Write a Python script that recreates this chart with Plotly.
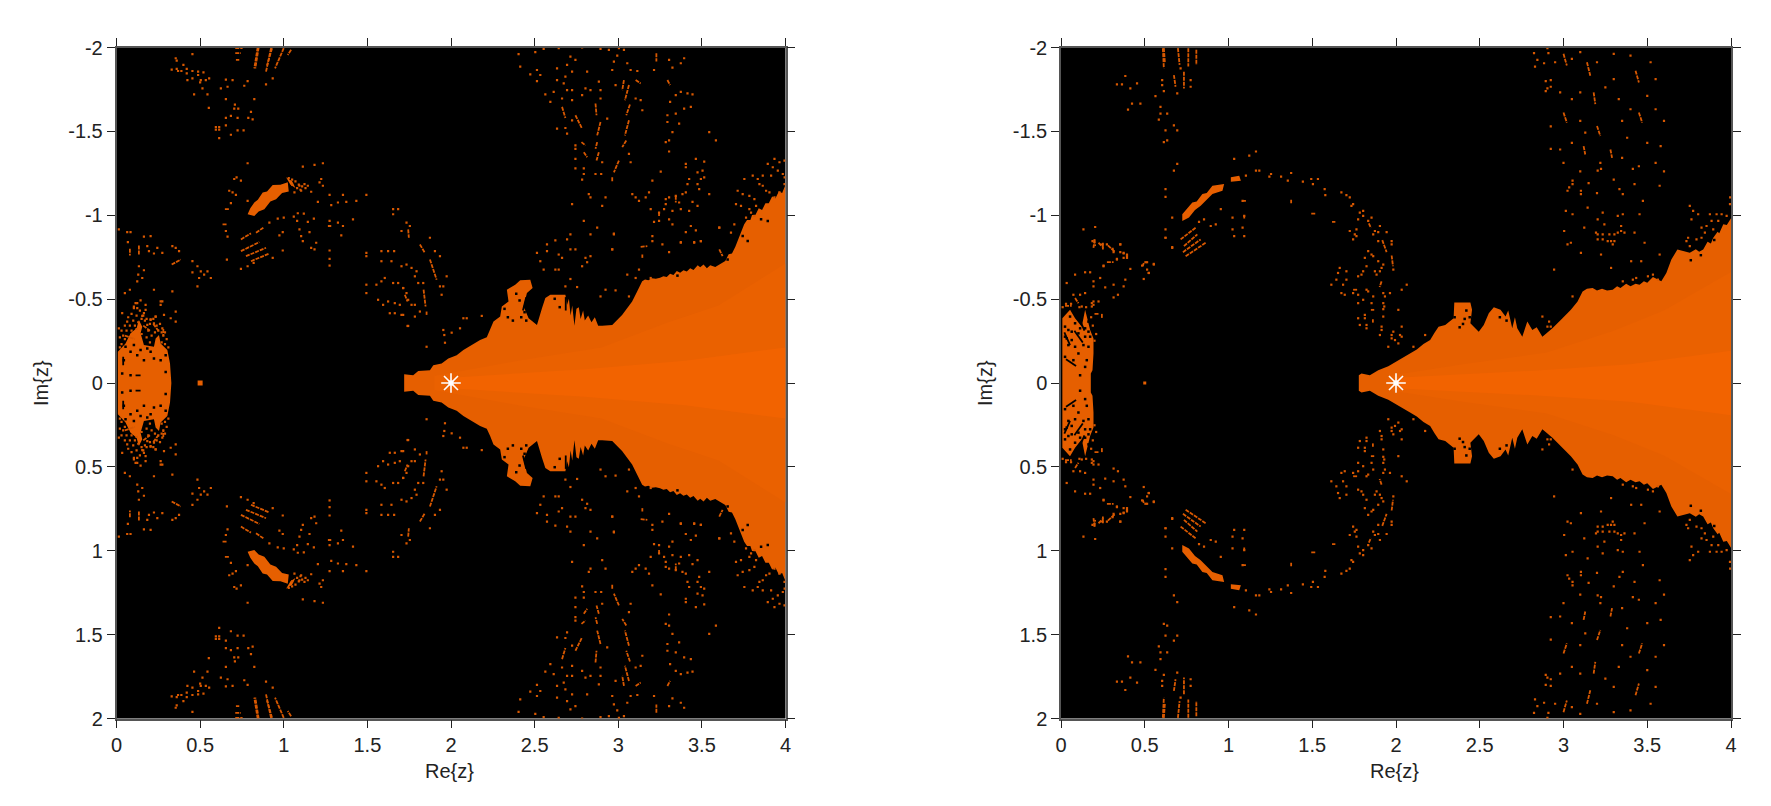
import plotly.graph_objects as go

tick_re = [0, 0.5, 1, 1.5, 2, 2.5, 3, 3.5, 4]
tick_re_text = ['0', '0.5', '1', '1.5', '2', '2.5', '3', '3.5', '4']
tick_im = [-2, -1.5, -1, -0.5, 0, 0.5, 1, 1.5, 2]
tick_im_text = ['-2', '-1.5', '-1', '-0.5', '0', '0.5', '1', '1.5', '2']
root = (2, 0)

# upper half outlines (Re, Im), the lower half is the conjugate
left_body = [(1.72,-.04),(1.774,-.034),(1.804,-.06),(1.874,-.064),(1.894,-.094),(1.944,-.104),(1.984,-.134),(2.034,-.154),
    (2.074,-.184),(2.124,-.214),(2.174,-.244),(2.214,-.26),(2.234,-.304),(2.254,-.354),(2.294,-.384),(2.304,-.444),(2.344,-.474),
    (2.334,-.544),(2.384,-.574),(2.414,-.6),(2.474,-.604),(2.488,-.554),(2.454,-.524),(2.434,-.444),(2.464,-.374),(2.514,-.334),
    (2.544,-.434),(2.564,-.494),(2.594,-.514),(2.684,-.514),(2.694,-.454),(2.705,-.49),(2.715,-.39),(2.725,-.45),(2.738,-.33),
    (2.75,-.43),(2.764,-.44),(2.775,-.37),(2.79,-.42),(2.80,-.36),(2.82,-.39),(2.84,-.35),(2.86,-.38),(2.88,-.33),(2.904,-.33),
    (2.964,-.334),(3.023,-.394),(3.083,-.474),(3.113,-.534),(3.143,-.594),(3.16,-.605),(3.18,-.6),(3.2,-.612),(3.225,-.61),
    (3.25,-.615),(3.27,-.625),(3.29,-.62),(3.31,-.64),(3.33,-.632),(3.35,-.655),(3.37,-.645),(3.39,-.66),(3.41,-.652),(3.43,-.672),(3.45,-.662),
    (3.475,-.69),(3.49,-.678),(3.51,-.695),(3.53,-.672),(3.55,-.69),(3.58,-.68),(3.61,-.695),(3.64,-.715),(3.66,-.755),(3.68,-.76),(3.70,-.80),
    (3.723,-.854),(3.753,-.934),(3.77,-.96),(3.79,-.96),(3.80,-.99),(3.82,-.99),(3.84,-1.03),(3.86,-1.02),(3.88,-1.06),(3.90,-1.06),(3.92,-1.10),
    (3.94,-1.09),(3.96,-1.13),(3.98,-1.12),(4.0,-1.17),(4.0,0)]
left_mid = [(1.9,-.03),(2.4,-.12),(2.9,-.2),(3.3,-.35),(3.6,-.45),(4,-.7),(4,0)]
left_core = [(2.0,-.02),(2.8,-.07),(3.4,-.12),(4,-.2),(4,0)]
left_blob = [(.008,0),(.008,-.174),(.054,-.224),(.084,-.284),(.12,-.314),(.134,-.364),(.154,-.324),(.144,-.284),(.164,-.214),
    (.224,-.204),(.234,-.254),(.254,-.274),(.264,-.224),(.304,-.184),(.32,-.104),(.328,0)]
left_arc = [(.784,-.994),(.80,-1.03),(.824,-1.064),(.845,-1.08),(.874,-1.124),(.9,-1.13),(.934,-1.168),(.98,-1.17),(1.024,-1.184),(1.03,-1.13),
    (.99,-1.12),(.954,-1.084),(.92,-1.07),(.884,-1.024),(.85,-1.01),(.824,-.984)]
left_arc_tail = [(1.014,-1.214),(1.05,-1.19),(1.07,-1.15),(1.04,-1.17)]

right_body = [(1.778,-.034),(1.794,-.044),(1.844,-.034),(1.894,-.064),(1.954,-.088),(2.014,-.124),(2.084,-.164),(2.124,-.188),
    (2.164,-.22),(2.204,-.244),(2.23,-.288),(2.254,-.324),(2.294,-.334),(2.344,-.374),(2.348,-.468),(2.444,-.468),(2.454,-.424),
    (2.444,-.344),(2.494,-.294),(2.524,-.334),(2.554,-.404),(2.584,-.44),(2.624,-.424),(2.654,-.384),(2.67,-.42),(2.694,-.314),(2.71,-.38),(2.724,-.314),
    (2.754,-.264),(2.784,-.354),(2.814,-.304),(2.84,-.32),(2.874,-.264),(2.934,-.314),(2.994,-.374),(3.044,-.424),(3.084,-.474),(3.114,-.534),
    (3.14,-.55),(3.174,-.554),(3.2,-.54),(3.23,-.55),(3.26,-.54),(3.294,-.544),(3.32,-.565),(3.34,-.555),(3.374,-.58),(3.40,-.565),(3.43,-.58),(3.454,-.574),
    (3.48,-.595),(3.50,-.585),(3.534,-.62),(3.56,-.605),(3.584,-.594),(3.614,-.644),(3.644,-.724),(3.68,-.784),(3.72,-.775),(3.754,-.764),(3.79,-.785),(3.81,-.77),(3.834,-.784),
    (3.86,-.83),(3.88,-.82),(3.894,-.854),(3.92,-.89),(3.93,-.88),(3.954,-.934),(3.975,-.93),(4.0,-.97),(4.0,0)]
right_mid = [(1.95,-.03),(2.4,-.1),(2.9,-.17),(3.3,-.3),(3.6,-.42),(4,-.65),(4,0)]
right_core = [(2.0,-.02),(2.8,-.06),(3.4,-.1),(4,-.18),(4,0)]
right_blob = [(.008,0),(.008,-.374),(.054,-.424),(.084,-.374),(.124,-.324),(.144,-.424),(.174,-.304),(.194,-.254),(.194,-.164),
    (.188,-.064),(.178,-.044),(.178,0)]
right_arc = [(.724,-.994),(.784,-1.064),(.81,-1.07),(.844,-1.114),(.87,-1.12),(.904,-1.164),(.974,-1.174),(.964,-1.134),(.904,-1.114),(.87,-1.08),(.834,-1.044),(.8,-1.02),(.764,-.974),(.724,-.954)]
right_arc_tail = [(1.014,-1.214),(1.064,-1.224),(1.074,-1.194),(1.014,-1.188)]

# single cells
left_specks = [(.354,-1.924),(.36,-1.91),(.454,-1.948),(.33,-1.856),(.36,-1.86),(.368,-1.848),(.388,-1.848),(.40,-1.884),(.42,-1.86),
    (.42,-1.834),(.454,-1.848),(.488,-1.844),(.52,-1.84),(.424,-1.794),(.454,-1.804),(.488,-1.824),(.504,-1.794),(.534,-1.794),
    (.554,-1.804),(.50,-1.78),(.514,-1.744),(.464,-1.708),(.544,-1.708),(.552,-1.628),(.654,-1.68),(.824,-1.68),(.708,-1.648),
    (.728,-1.624),(.704,-1.624),(.804,-1.604),(.654,-1.568),(.684,-1.58),(.724,-1.568),(.788,-1.568),(.814,-1.56),(.654,-1.524),
    (.594,-1.514),(.614,-1.514),(.594,-1.498),(.614,-1.498),(.724,-1.494),(.76,-1.494),(.684,-1.468),(.614,-1.448),(.654,-1.796),
    (.694,-1.794),(.784,-1.788),(.894,-1.768),(.624,-1.744),(.664,-1.754),(.764,-1.76),(.934,-1.804),(.784,-1.298),(.718,-1.214),
    (.704,-1.204),(.744,-1.194),(.674,-1.134),(.694,-1.124),(.714,-1.11),(.684,-1.06),(.784,-1.074),(1.114,-1.278),(1.184,-1.288),
    (1.234,-1.298),(1.224,-1.204),(1.234,-1.164),(1.214,-1.184),(1.274,-1.11),(1.354,-1.11),(1.494,-1.11),(1.434,-1.074),(1.374,-1.068),
    (1.324,-1.064),(1.204,-1.068),(1.284,-1.048),(1.094,-1.164),(1.124,-1.174),(1.104,-1.134),(1.164,-1.128),(1.144,-1.164),(1.064,-1.124),
    (1.03,-1.21),(1.05,-1.2),(1.07,-1.19),(1.09,-1.17),(1.11,-1.16),(1.13,-1.15),(1.05,-1.17),(1.08,-1.15),(1.1,-1.14),
    (.964,-.968),(1.0,-.974),(1.06,-.98),(1.084,-1.0),(1.12,-.998),(1.08,-.954),(1.144,-.948),(1.18,-.968),(.914,-.944),(1.274,-.954),
    (1.324,-.944),(1.414,-.964),(1.354,-.924),(1.344,-.868),(1.094,-.904),(1.104,-.864),(1.154,-.888),(1.114,-.834),(1.194,-.824),
    (1.164,-.794),(1.184,-.784),(.994,-.888),(.974,-.868),(.994,-.778),(1.274,-.778),(1.274,-.728),(1.274,-.688),(.66,-.724),(.654,-.894),
    (.664,-.86),(.744,-.668),(.784,-.684),(.82,-.704),(.934,-.734),(.014,-.904),(.064,-.888),(.084,-.888),(.164,-.86),(.204,-.864),
    (.068,-.828),(.184,-.804),(.194,-.774),(.244,-.794),(.224,-.76),(.274,-.764),(.334,-.804),(.374,-.774),(.354,-.794),(.134,-.684),
    (.164,-.66),(.13,-.634),(.154,-.614),(.124,-.594),(.08,-.544),(.05,-.524),(.224,-.544),(.334,-.534),(.454,-.714),(.484,-.684),
    (.454,-.648),(.504,-.654),(.524,-.634),(.544,-.654),(.494,-.614),(.564,-.614),(.484,-.564),(.114,-.464),(.144,-.48),(.174,-.454),
    (.264,-.474),(.104,-.434),(.034,-.404),(.154,-.388),(.204,-.368),(.234,-.384),(.324,-.374),(.354,-.414),(.354,-.354),(.014,-.314),
    (.274,-.474),(.264,-.454),(.124,-.464),(.104,-.444),(.124,-.434),(.064,-.354),(.164,-.404),(.174,-.424),(.204,-.364),(.234,-.384),
    (.284,-.394),(.224,-.344),(.184,-.334),(.274,-.314),(.03,-.22),(.05,-.25),(.09,-.3),(.11,-.33),(.13,-.35),(.15,-.37),(.17,-.36),(.19,-.3),
    (.21,-.27),(.23,-.29),(.25,-.3),(.27,-.29),(.29,-.22),(.31,-.2),(.02,-.2),(.04,-.27),(.06,-.3),(.02,-.26),(.08,-.33),(.1,-.36),(.12,-.39),(.14,-.42),(.16,-.39),(.18,-.37),
    (.2,-.34),(.22,-.37),(.24,-.33),(.26,-.34),(.28,-.27),(.3,-.25),(.07,-.38),(.09,-.4),(.12,-.31),(.15,-.28),(.18,-.26),(.2,-.23),(.27,-.23),(.29,-.29),(.03,-.3),(.05,-.33),
    (1.654,-1.024),(1.654,-.994),(1.684,-1.024),(1.734,-.944),(1.754,-.924),(1.704,-.894),
    (1.494,-.764),(1.584,-.774),(1.624,-.774),(1.66,-.774),(1.584,-.714),(1.644,-.714),(1.704,-.684),(1.734,-.694),(1.494,-.744),(1.604,-.614),
    (1.584,-.594),(1.554,-.574),(1.494,-.574),(1.494,-.524),(1.654,-.584),(1.684,-.584),(1.714,-.554),(1.734,-.524),(1.564,-.484),(1.594,-.454),
    (1.624,-.474),(1.664,-.464),(1.694,-.454),(1.634,-.404),(1.664,-.404),(1.714,-.394),(1.744,-.484),(1.744,-.328),(2.404,-1.948),(2.504,-1.96),
    (2.554,-1.98),(2.644,-1.984),(2.784,-1.988),(2.894,-1.98),(2.944,-1.974),(3.004,-1.984),(3.034,-1.974),(2.994,-1.94),(2.974,-1.904),(3.054,-1.894),
    (2.964,-1.854),(3.074,-1.854),(3.114,-1.848),(3.304,-1.914),(3.394,-1.924),(3.324,-1.868),(3.374,-1.894),(3.214,-1.854),(2.414,-1.874),(2.474,-1.828),
    (2.514,-1.854),(2.534,-1.824),(2.514,-1.788),(2.714,-1.934),(2.744,-1.914),(2.694,-1.884),(2.634,-1.864),(2.724,-1.844),(2.814,-1.844),(2.884,-1.784),
    (2.684,-1.814),(2.634,-1.794),(2.674,-1.774),(2.694,-1.734),(2.724,-1.734),(2.804,-1.744),(2.834,-1.734),(2.894,-1.734),(2.564,-1.708),(2.614,-1.724),
    (2.594,-1.664),(2.664,-1.684),(2.724,-1.674),(2.784,-1.704),(2.894,-1.684),(3.104,-1.684),(3.134,-1.674),(3.144,-1.614),(2.984,-1.764),(2.934,-1.564),
    (2.724,-1.554),(2.634,-1.504),(2.684,-1.508),(2.694,-1.474),(2.744,-1.404),(2.744,-1.384),(2.744,-1.324),(2.744,-1.268),(2.794,-1.268),(2.794,-1.234),
    (2.784,-1.2),(2.904,-1.304),(2.864,-1.234),(2.898,-1.234),(3.064,-1.354),(3.074,-1.304),(3.294,-1.584),(3.344,-1.594),(3.364,-1.534),(3.294,-1.544),
    (3.324,-1.484),(3.304,-1.434),(3.284,-1.424),(3.304,-1.368),(3.31,-1.664),(3.344,-1.704),(3.374,-1.724),(3.414,-1.714),(3.444,-1.708),(3.394,-1.624),
    (3.434,-1.634),(3.544,-1.484),(3.584,-1.434),(3.464,-1.324),(3.514,-1.308),(3.404,-1.294),(3.404,-1.274),(3.254,-1.248),(3.204,-1.194),(3.474,-1.244),
    (3.504,-1.254),(3.494,-1.204),(3.514,-1.214),(3.424,-1.204),(3.474,-1.174),(3.414,-1.174),(3.484,-1.144),(3.544,-1.114),(3.404,-1.124),(3.384,-1.114),
    (3.344,-1.104),(3.284,-1.084),(3.304,-1.094),(3.364,-1.064),(3.444,-1.068),(3.474,-1.044),(3.284,-1.054),(3.274,-1.024),(3.194,-1.024),(3.244,-1.004),
    (3.324,-1.014),(3.374,-1.024),(3.424,-1.014),(3.244,-.954),(3.214,-.948),(3.304,-.964),(3.324,-.934),(3.434,-.924),(3.464,-.898),(3.404,-.888),(3.604,-.914),
    (3.454,-.828),(3.374,-.828),(3.494,-.834),(3.204,-.864),(3.204,-.834),(3.304,-.768),(3.084,-1.114),(3.104,-1.094),(3.184,-1.124),(3.124,-1.074),(3.164,-1.094),
    (2.904,-1.044),(2.924,-1.094),(2.824,-1.114),(2.834,-1.094),(2.724,-1.054),(2.794,-.954),(2.874,-.914),(2.974,-.878),(2.834,-.874),(2.714,-.874),(2.694,-.844),
    (2.624,-.838),(2.574,-.814),(2.514,-.764),(2.534,-.714),(2.574,-.774),(2.644,-.754),(2.714,-.784),(2.744,-.784),(2.664,-.734),(2.964,-.784),(2.804,-.734),
    (2.834,-.744),(2.814,-.708),(2.784,-.684),(2.554,-.664),(2.624,-.664),(2.644,-.664),(2.714,-.608),(2.684,-.564),(2.754,-.56),(2.924,-.544),(2.984,-.54),
    (2.894,-.504),(3.064,-.504),(3.054,-.634),(3.124,-.664),(3.104,-.614),(3.194,-.614),(1.804,-.584),(1.834,-.584),(1.764,-.674),(1.794,-.654),(1.784,-.624),
    (1.714,-.554),(1.764,-.454),(1.784,-.454),(1.704,-.394),(1.784,-.384),(1.814,-.414),(1.74,-.328),(1.954,-.564),(1.934,-.564),(1.944,-.514),(1.974,-.624),
    (1.954,-.304),(1.96,-.274),(1.964,-.228),(2.004,-.288),(2.054,-.314),(2.074,-.374),(2.094,-.374),(2.184,-.388),(1.854,-.204),(1.904,-.774),(1.874,-.854),
    (1.934,-.744),(3.894,-1.294),(3.934,-1.324),(3.964,-1.304),(3.994,-1.314),(3.924,-1.274),(3.954,-1.254),(3.984,-1.234),(3.995,-1.214),(3.914,-1.224),(3.864,-1.224),
    (3.834,-1.204),(3.804,-1.224),(3.754,-1.204),(3.714,-1.134),(3.744,-1.114),(3.784,-1.104),(3.814,-1.084),(3.864,-1.164),(3.884,-1.134),(3.904,-1.124),(3.934,-1.094),
    (3.964,-1.124),(3.994,-1.174),(3.844,-1.174),(3.734,-1.044),(3.704,-1.054),(3.784,-1.024),(3.824,-1.044),(3.794,-1.004),(3.814,-.984),(3.764,-.974),(3.694,-.934),
    (3.674,-.884),(3.604,-.914),(3.494,-.834),(3.454,-.824),(3.374,-.824),(3.264,-.814),(2.964,-.784),(2.974,-.874)]

right_specks = [(.384,-1.818),(.334,-1.768),(.364,-1.768),(.454,-1.774),(.414,-1.744),(.424,-1.654),(.474,-1.654),(.4,-1.618),(.564,-1.698),(.594,-1.634),(.594,-1.594),
    (.634,-1.594),(.584,-1.558),(.674,-1.524),(.624,-1.494),(.694,-1.494),(.634,-1.434),(.614,-1.424),(.604,-1.794),(.604,-1.764),(.614,-1.728),(.694,-1.714),(.774,-1.794),
    (.774,-1.754),(.714,-1.864),(1.034,-1.324),(.694,-1.294),(.674,-1.254),(.624,-1.144),(.624,-1.098),(.664,-.974),(.624,-.904),(.624,-.854),(.664,-.798),(.954,-1.024),
    (1.024,-.974),(1.094,-.984),(1.084,-1.074),(.894,-.924),(.924,-.934),(.854,-.964),(.824,-.948),(1.024,-.904),(1.084,-.914),(1.034,-.864),(1.094,-.864),(.134,-.904),
    (.204,-.918),(.354,-.814),(.374,-.76),(.394,-.744),(.334,-.728),(.254,-.688),(.414,-.668),(.484,-.688),(.504,-.708),(.554,-.698),(.524,-.644),(.494,-.608),(.384,-.604),
    (.234,-.614),(.194,-.594),(.194,-.564),(.174,-.648),(.144,-.648),(.084,-.634),(.034,-.584),(.264,-.558),(.314,-.574),(.374,-.564),(.34,-.514),(.314,-.498),(.144,-.524),
    (.074,-.514),(.114,-.514),(.224,-.474),(.194,-.474),(.194,-.454),(.188,-.834),(.274,-.814),(.308,-.788),(.314,-.768),(.354,-.814),(.354,-.768),(.374,-.764),(.394,-.754),
    (.374,-.734),(.394,-.734),(.334,-.724),(.254,-.684),(.514,-.708),(.554,-.694),(.514,-.664),(.524,-.644),(.624,-.854),(.664,-.794),(.124,-.444),(.184,-.444),(.184,-.464),
    (.01,-.44),(.03,-.46),(.06,-.46),(.11,-.44),(.15,-.44),(.18,-.38),(.19,-.33),(.21,-.28),(.2,-.24),
    (1.124,-1.344),(1.164,-1.368),(1.164,-1.254),(1.184,-1.254),(1.104,-1.224),(1.254,-1.234),(1.244,-1.218),(1.314,-1.218),(1.374,-1.24),(1.354,-1.194),(1.444,-1.188),
    (1.494,-1.204),(1.534,-1.204),(1.504,-1.174),(1.574,-1.144),(1.578,-1.108),(1.674,-1.124),(1.704,-1.108),(1.724,-1.094),(1.744,-1.054),(1.734,-1.044),(1.784,-1.004),
    (1.804,-1.014),(1.804,-.984),(1.774,-.964),(1.854,-.974),(1.834,-.954),(1.904,-.924),(1.874,-.894),(1.894,-.888),(1.944,-.888),(1.864,-.874),(1.764,-.904),(1.724,-.894),
    (1.754,-.874),(1.764,-.864),(1.744,-.844),(1.894,-.834),(1.974,-.834),(1.974,-.814),(1.834,-.774),(1.854,-.754),(1.864,-.744),(1.814,-.734),(1.894,-.714),(1.924,-.694),
    (1.824,-.684),(1.914,-.674),(1.984,-.664),(1.804,-.654),(1.794,-.634),(1.774,-.624),(1.874,-.654),(1.884,-.634),(1.904,-.654),(1.664,-.674),(1.654,-.644),(1.704,-.654),
    (1.644,-.604),(1.704,-.604),(1.614,-.574),(1.684,-.574),(1.674,-.524),(1.694,-.514),(1.744,-.524),(1.774,-.514),(1.804,-.484),(1.774,-.464),(1.824,-.544),(1.834,-.534),
    (1.854,-.464),(1.864,-.504),(1.924,-.524),(1.934,-.504),(1.924,-.464),(1.93,-.444),(1.924,-.428),(1.964,-.524),(2.064,-.574),(2.034,-.544),(2.014,-.424),(1.924,-.384),
    (1.774,-.374),(1.814,-.394),(1.814,-.374),(1.784,-.334),(1.824,-.334),(1.824,-.314),(1.904,-.274),(1.914,-.324),(1.914,-.304),(1.984,-.294),(2.034,-.324),(1.974,-.274),
    (1.974,-.254),(1.994,-.244),(2.024,-.274),(2.034,-.264),(2.014,-.224),(1.954,-.204),(2.104,-.204),(2.174,-.274),(2.824,-1.954),(2.904,-1.984),(2.91,-1.954),(2.844,-1.914),
    (2.884,-1.894),(2.83,-1.874),(2.924,-1.794),(2.894,-1.788),(2.924,-1.754),(2.904,-1.744),(2.894,-1.728),(2.924,-1.518),(2.924,-1.384),(3.054,-1.194),(3.054,-1.174),
    (3.034,-1.154),(3.024,-1.134),(3.104,-1.134),(3.104,-1.114),(3.144,-1.034),(3.014,-1.014),(3.054,-.994),(3.234,-1.004),(3.204,-.964),(3.244,-.934),(3.124,-.914),(3.004,-.894),
    (3.194,-.884),(3.204,-.874),(3.234,-.874),(3.274,-.874),(3.304,-.874),(3.324,-.884),(3.344,-.924),(3.344,-.894),(3.364,-.884),(3.204,-.844),(3.234,-.844),(3.264,-.834),
    (3.284,-.834),(3.304,-.834),(3.294,-.814),(3.024,-.814),(3.044,-.824),(3.104,-.764),(3.224,-.754),(3.404,-.714),(3.464,-.714),(3.284,-.674),(2.944,-.664),(3.484,-.824),
    (3.574,-.754),(3.424,-.884),(3.324,-.984),(3.354,-.994),(3.454,-.994),(3.474,-1.074),(3.334,-1.144),(3.354,-1.114),(3.424,-1.174),(3.574,-1.164),(3.204,-1.254),(3.224,-1.264),
    (3.414,-1.264),(3.754,-1.044),(3.774,-1.014),(3.804,-.994),(3.764,-.964),(3.824,-.914),(3.874,-.994),(3.914,-.994),(3.944,-.994),(3.974,-.984),(3.994,-1.054),(3.995,-1.094),
    (3.884,-.954),(3.924,-.954),(3.854,-.924),(3.894,-.904),(3.844,-.884),(3.824,-.854),(3.744,-.854),(3.734,-.834),(3.754,-.804),(3.794,-.844),(3.414,-.604),(3.354,-.594),
    (3.504,-.624),(3.534,-.634),(3.564,-.604),(3.434,-.614),(2.874,-.384),(2.914,-.354),(2.904,-.324),(2.924,-.324),(3.054,-.504),
    (2.95,-1.9),(3.05,-1.92),(3.1,-1.96),(3.2,-1.9),(3.3,-1.95),(3.4,-1.94),(3.52,-1.9),(3.55,-1.8),(3.5,-1.7),(3.3,-1.8),(3.25,-1.75),(3.1,-1.72),(3.05,-1.68),(2.98,-1.72),
    (3.33,-1.68),(3.4,-1.62),(3.55,-1.62),(3.6,-1.55),(3.35,-1.55),(3.1,-1.55),(3.13,-1.48),(3.38,-1.45),(3.5,-1.42),(3.58,-1.4),(3.05,-1.42),(2.98,-1.38),(3.22,-1.3),(3.35,-1.33),
    (3.45,-1.28),(3.55,-1.3),(3.6,-1.25),(3.1,-1.25),(3.0,-1.3),(3.3,-1.2),(3.2,-1.12),(3.15,-1.18)]

# short runs of cells, as start and end pairs
left_streaks = [((.71,-1.984),(.754,-1.984)),((.71,-1.954),(.744,-1.954)),((.714,-1.914),(.734,-1.914)),((.844,-1.988),(.824,-1.864)),((.85,-1.988),(.83,-1.864)),((.924,-1.984),(.894,-1.844)),((.93,-1.984),(.90,-1.88)),
    ((1.0,-1.984),(.948,-1.864)),((1.044,-1.974),(1.024,-1.944)),((.744,-.844),(.804,-.88)),((.744,-.774),(.854,-.828)),((.774,-.744),(.894,-.794)),((.804,-.714),(.914,-.76)),
    ((.834,-.884),(.878,-.914)),((.648,-1.024),(.676,-1.024)),((.634,-.934),(.66,-.934)),((.08,-.788),(.08,-.748)),((.134,-.808),(.134,-.748)),((.33,-.694),(.384,-.724)),
    ((1.264,-.924),(1.284,-.924)),((3.034,-1.794),(3.024,-1.734)),((3.064,-1.764),(3.04,-1.674)),((3.07,-1.648),(3.048,-1.584)),((3.064,-1.554),(3.04,-1.464)),((3.048,-1.434),(3.024,-1.394)),
    ((3.004,-1.314),(2.974,-1.244)),((2.964,-1.214),(2.964,-1.184)),((2.864,-1.654),(2.87,-1.584)),((2.894,-1.544),(2.874,-1.464)),((2.874,-1.424),(2.864,-1.384)),((2.664,-1.634),(2.684,-1.568)),
    ((2.744,-1.584),(2.784,-1.504)),((2.78,-1.424),(2.804,-1.404)),((2.794,-1.364),(2.814,-1.334)),((2.884,-1.364),(2.87,-1.314)),((3.228,-1.954),(3.228,-1.904)),((3.294,-1.794),(3.31,-1.764)),
    ((3.104,-1.794),(3.134,-1.774)),((3.344,-1.104),(3.344,-1.064)),((3.244,-1.008),(3.244,-.984)),((3.134,-.8),(3.174,-.804)),((3.144,-.754),(3.144,-.734)),((1.814,-.814),(1.844,-.764)),
    ((1.874,-.724),(1.914,-.604)),((1.744,-.904),(1.748,-.854)),((1.836,-.544),(1.848,-.444)),((1.724,-.514),(1.74,-.474)),((1.854,-.414),(1.854,-.394)),((3.604,-.784),(3.624,-.744)),
    ((.05,-.27),(.11,-.25)),((.16,-.33),(.2,-.3)),((.22,-.34),(.25,-.3)),((.28,-.31),(.28,-.27))]
right_streaks = [((.608,-1.984),(.614,-1.864)),((.614,-1.984),(.62,-1.9)),((.698,-1.984),(.708,-1.884)),((.76,-1.984),(.76,-1.874)),((.808,-1.974),(.808,-1.884)),((.674,-1.824),(.684,-1.754)),((.734,-1.844),(.734,-1.744)),
    ((.714,-.844),(.804,-.914)),((.734,-.804),(.814,-.874)),((.728,-.768),(.834,-.844)),((.744,-.744),(.864,-.824)),((.2,-.844),(.194,-.794)),((.224,-.824),(.254,-.794)),((.28,-.808),(.324,-.768)),
    ((.274,-.708),(.314,-.708)),((.2,-.844),(.204,-.804)),((.234,-.814),(.254,-.814)),((.25,-.824),(.25,-.784)),((.494,-.704),(.488,-.684)),((1.084,-1.074),(1.104,-1.074)),((1.374,-1.08),(1.374,-1.06)),
    ((1.094,-.988),(1.094,-.968)),((1.494,-.998),(1.518,-.998)),((1.618,-.948),(1.638,-.948)),((1.838,-.94),(1.85,-.912)),((1.918,-.84),(1.944,-.768)),((1.974,-.748),(1.982,-.684)),((1.914,-.594),(1.902,-.56)),
    ((1.744,-.544),(1.77,-.544)),((1.85,-.424),(1.87,-.424)),((1.862,-.368),(1.862,-.348)),((.084,-.494),(.104,-.464)),((.024,-.448),(.064,-.448)),((.244,-.4),(.244,-.374)),((.2,-.4),(.23,-.4)),
    ((3.0,-1.95),(3.02,-1.88)),((3.14,-1.9),(3.16,-1.82)),((3.18,-1.72),(3.19,-1.65)),((3.0,-1.6),(3.02,-1.54)),((3.2,-1.52),(3.22,-1.46)),((3.43,-1.85),(3.45,-1.78)),((3.45,-1.6),(3.47,-1.54)),((3.28,-1.38),(3.29,-1.33)),((3.12,-1.4),(3.13,-1.35))]

# holes in the solid areas
left_holes = [(.044,-.124),(.034,-.044),(.084,-.034),(.294,-.054),(.104,-.214),(.144,-.184),(.184,-.194),(.204,-.174),(.224,-.134),(.084,-.174),(.264,-.124),(.294,-.154),(.164,-.124),
    (.054,-.204),(.124,-.154),(2.39,-.52),(2.41,-.48),(2.44,-.41),(2.42,-.38),(2.37,-.36),(2.48,-.44),(2.5,-.4),(2.45,-.36),(2.34,-.38),(2.32,-.43),(2.65,-.44),(2.62,-.49),(3.854,-.964),(3.894,-.954),(3.774,-.834),(3.744,-.864),(3.654,-.724),(3.354,-.628)]
right_holes = [(.024,-.324),(.044,-.304),(.024,-.264),(.064,-.244),(.044,-.214),(.104,-.284),(.144,-.264),(.084,-.344),(.164,-.354),(.114,-.364),(.054,-.384),(.134,-.214),(.084,-.204),(.164,-.204),(.024,-.144),(.104,-.164),
    (.154,-.124),(.074,-.124),(.144,-.084),(.114,-.034),(.034,-.254),(.114,-.314),(.174,-.264),(.064,-.294),(.144,-.314),(.164,-.294),(2.42,-.42),(2.41,-.37),(2.44,-.38),(2.35,-.38),(2.4,-.34),(2.38,-.32),(2.62,-.38),(2.66,-.36),(3.76,-.72),(3.82,-.75),(3.9,-.84)]
hole_streaks_left = [((.04,-.144),(.04,-.094)),((.114,-.034),(.144,-.034)),((2.686,-.5),(2.686,-.42)),((2.45,-.5),(2.43,-.42))]
hole_streaks_right = [((.02,-.29),(.054,-.214)),((.08,-.30),(.13,-.23)),((.11,-.37),(.14,-.30)),((.03,-.13),(.09,-.09)),((2.47,-.42),(2.47,-.34))]

ORANGE = '#E65F00'
MID = '#EA6100'
CORE = '#F26300'
SPECK = '#D85800'
TEXT = '#222222'
# the Im values above were read against a zero line about 2px too high
IM_READ_SHIFT = -0.012


def up(v):
    return v + IM_READ_SHIFT if v < 0 else v


def mirrored(outline):
    re = [p[0] for p in outline]
    im = [up(p[1]) for p in outline]
    return re + re[::-1], im + [-v for v in im[::-1]]


def two_patches(outline):
    re = [p[0] for p in outline]
    im = [up(p[1]) for p in outline]
    return re + [re[0], None] + re + [re[0]], im + [im[0], None] + [-v for v in im] + [-im[0]]


def both_signs(points):
    return [p[0] for p in points] * 2, [up(p[1]) for p in points] + [-up(p[1]) for p in points]


def segments(streaks):
    xs, ys = [], []
    for a, b in streaks:
        xs += [a[0], b[0], None, a[0], b[0], None]
        ys += [up(a[1]), up(b[1]), None, -up(a[1]), -up(b[1]), None]
    return xs, ys


fig = go.Figure()


def add_panel(col, body, mid, core, blob, arc, tail, specks, streaks, holes, hole_streaks, dot_size):
    xa, ya = ('x', 'y') if col == 1 else ('x2', 'y2')
    base = dict(xaxis=xa, yaxis=ya, hoverinfo='skip')
    for shape, colour in [(body, ORANGE), (mid, MID), (core, CORE), (blob, ORANGE)]:
        x, y = mirrored(shape)
        fig.add_trace(go.Scatter(x=x, y=y, mode='lines', fill='toself', fillcolor=colour, line=dict(width=0), **base))
    for shape in [arc, tail]:
        x, y = two_patches(shape)
        fig.add_trace(go.Scatter(x=x, y=y, mode='lines', fill='toself', fillcolor=ORANGE, line=dict(width=0), **base))
    x, y = segments(hole_streaks)
    fig.add_trace(go.Scatter(x=x, y=y, mode='lines', line=dict(color='black', width=1.8), **base))
    x, y = both_signs(holes)
    fig.add_trace(go.Scatter(x=x, y=y, mode='markers', marker=dict(symbol='square', size=2.5, color='black'), **base))
    x, y = segments(streaks)
    fig.add_trace(go.Scatter(x=x, y=y, mode='lines', line=dict(color=SPECK, width=1.8, dash='4px,1px'), **base))
    x, y = both_signs(specks)
    fig.add_trace(go.Scatter(x=x, y=y, mode='markers', marker=dict(symbol='square', size=2.2, color=SPECK), **base))
    fig.add_trace(go.Scatter(x=[0.5], y=[0], mode='markers', marker=dict(symbol='square', size=dot_size, color=ORANGE), **base))
    for symbol in ['cross-thin-open', 'x-thin-open']:
        fig.add_trace(go.Scatter(x=[root[0]], y=[root[1]], mode='markers',
                                 marker=dict(symbol=symbol, size=14, color='white', line=dict(color='white', width=1.6)), **base))
    fig.add_trace(go.Scatter(x=[root[0]], y=[root[1]], mode='markers', marker=dict(symbol='square', size=5, color='white'), **base))


add_panel(1, left_body, left_mid, left_core, left_blob, left_arc, left_arc_tail, left_specks, left_streaks, left_holes, hole_streaks_left, 5)
add_panel(2, right_body, right_mid, right_core, right_blob, right_arc, right_arc_tail, right_specks, right_streaks, right_holes, hole_streaks_right, 3)

W, H = 1771, 806
axis_style = dict(showgrid=False, zeroline=False, ticks='outside', ticklen=8, tickwidth=1, tickcolor=TEXT,
                  showline=True, linecolor='#555555', linewidth=1.5, mirror='ticks', automargin=False,
                  tickfont=dict(family='Liberation Sans', size=20, color=TEXT))
fig.update_layout(
    width=W, height=H, margin=dict(l=0, r=0, t=0, b=0), showlegend=False,
    plot_bgcolor='black', paper_bgcolor='white',
    xaxis=dict(domain=[116.5 / W, 785.5 / W], range=[0, 4], tickvals=tick_re, ticktext=tick_re_text, **axis_style),
    yaxis=dict(domain=[1 - 718.5 / H, 1 - 47.5 / H], range=[2, -2], tickvals=tick_im, ticktext=tick_im_text, **axis_style),
    xaxis2=dict(domain=[1061 / W, 1731 / W], range=[0, 4], tickvals=tick_re, ticktext=tick_re_text, anchor='y2', **axis_style),
    yaxis2=dict(domain=[1 - 718.5 / H, 1 - 47.5 / H], range=[2, -2], tickvals=tick_im, ticktext=tick_im_text, anchor='x2', **axis_style),
)

title_font = dict(family='Liberation Sans', size=20, color=TEXT)
for cx in [449 / W, 1394 / W]:
    fig.add_annotation(text='Re{z}', xref='paper', yref='paper', x=cx, y=1 - 771 / H, xanchor='center', yanchor='middle', showarrow=False, font=title_font)
for cx in [41 / W, 985 / W]:
    fig.add_annotation(text='Im{z}', xref='paper', yref='paper', x=cx, y=1 - 383 / H, xanchor='center', yanchor='middle', showarrow=False, textangle=-90, font=title_font)

fig.write_html("out.html", config={'displayModeBar': False}, post_script="document.body.style.margin='0';")
